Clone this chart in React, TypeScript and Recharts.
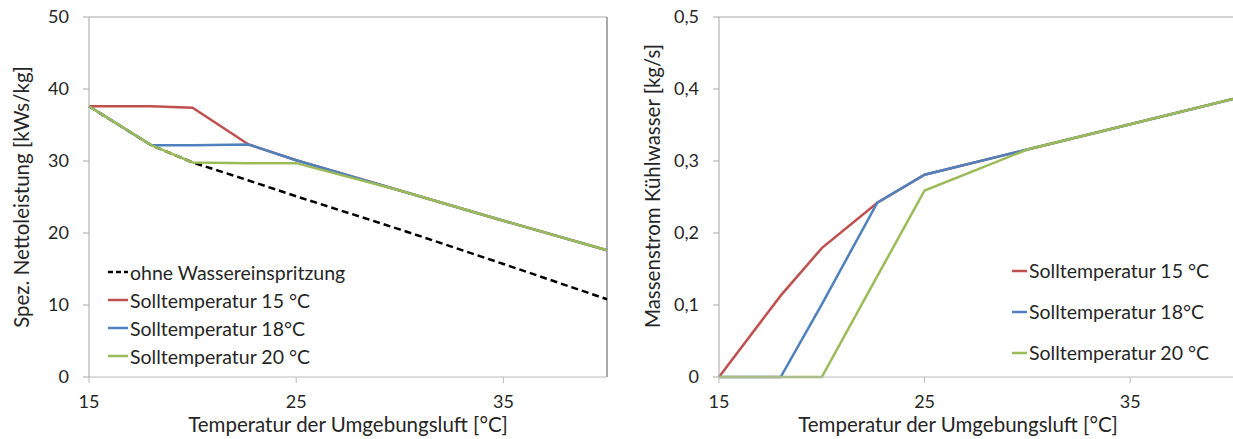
import { LineChart, Line, XAxis, YAxis, Legend, ReferenceLine } from "recharts";

// x grid shared by every series (°C)
const temps = [15, 18, 20, 22.7, 25, 30, 35, 40];

// left chart: Spez. Nettoleistung [kWs/kg]
const ohneWasser = [37.6, 32.2, 29.8, 27.3, 25.1, 20.5, 15.7, 10.8];
const leistung15 = [37.6, 37.6, 37.4, 32.3, 30.1, 25.9, 21.7, 17.6];
const leistung18 = [37.6, 32.2, 32.2, 32.3, 30.1, 25.9, 21.7, 17.6];
const leistung20 = [37.6, 32.2, 29.8, 29.7, 29.7, 25.9, 21.7, 17.6];

// right chart: Massenstrom Kühlwasser [kg/s]
const strom15 = [0, 0.113, 0.179, 0.242, 0.281, 0.316, 0.351, 0.386];
const strom18 = [0, 0, 0.101, 0.242, 0.281, 0.316, 0.351, 0.386];
const strom20 = [0, 0, 0, 0.14, 0.259, 0.316, 0.351, 0.386];

const xTicks = [15, 25, 35];
const leftTicks = [0, 10, 20, 30, 40, 50];
const rightTicks = [0, 0.1, 0.2, 0.3, 0.4, 0.5];

const leftData = temps.map((t, i) => ({
  t,
  ohne: ohneWasser[i],
  s15: leistung15[i],
  s18: leistung18[i],
  s20: leistung20[i],
}));

const rightData = temps.map((t, i) => ({
  t,
  s15: strom15[i],
  s18: strom18[i],
  s20: strom20[i],
}));

const FONT = "Lato, 'Open Sans', sans-serif";
const TEXT = "#262626";
const RED = "#C0504D";
const BLUE = "#4F81BD";
const GREEN = "#9BBB59";

const tickStyle = { fill: TEXT, fontSize: 18, fontFamily: FONT };
const titleStyle = { fill: TEXT, fontSize: 20.5, fontFamily: FONT };

type Entry = { value: string; color: string; dashed?: boolean };

function makeLegend(entries: Entry[], gap: number, lineW: number) {
  return () => (
    <div style={{ fontFamily: FONT, fontSize: 19.5, color: TEXT }}>
      {entries.map((e) => (
        <div
          key={e.value}
          style={{ display: "flex", alignItems: "center", height: gap, whiteSpace: "nowrap" }}
        >
          <svg width={lineW + 1} height={6} style={{ marginRight: 1 }}>
            <line
              x1={0}
              y1={3}
              x2={lineW}
              y2={3}
              stroke={e.color}
              strokeWidth={2.5}
              strokeDasharray={e.dashed ? "5 3" : undefined}
            />
          </svg>
          <span>{e.value}</span>
        </div>
      ))}
    </div>
  );
}

const leftLegend = makeLegend(
  [
    { value: "ohne Wassereinspritzung", color: "#000", dashed: true },
    { value: "Solltemperatur 15 °C", color: RED },
    { value: "Solltemperatur 18°C", color: BLUE },
    { value: "Solltemperatur 20 °C", color: GREEN },
  ],
  28,
  20
);

const rightLegend = makeLegend(
  [
    { value: "Solltemperatur 15 °C", color: RED },
    { value: "Solltemperatur 18°C", color: BLUE },
    { value: "Solltemperatur 20 °C", color: GREEN },
  ],
  41,
  15
);

export default function App() {
  return (
    <div style={{ position: "absolute", left: 0, top: 0, width: 1233, height: 439, background: "#fff" }}>
      <div style={{ position: "absolute", left: 0, top: 0 }}>
        <LineChart width={620} height={439} data={leftData} margin={{ top: 17, right: 13, bottom: 0, left: 0 }}>
          <XAxis
            dataKey="t"
            type="number"
            domain={[15, 40]}
            ticks={xTicks}
            height={62}
            stroke="#BBBBBB"
            tickSize={6}
            tickMargin={12}
            tick={tickStyle}
            label={{
              value: "Temperatur der Umgebungsluft [°C]",
              position: "center",
              dy: 17,
              style: titleStyle,
            }}
          />
          <YAxis
            type="number"
            domain={[0, 50]}
            ticks={leftTicks}
            width={89}
            stroke="#A6A6A6"
            tickSize={6}
            tickMargin={14}
            tick={tickStyle}
            label={{
              value: "Spez. Nettoleistung [kWs/kg]",
              angle: -90,
              position: "center",
              dx: -23,
              style: titleStyle,
            }}
          />
          <ReferenceLine y={50} stroke="#C4C4C4" strokeWidth={1.5} />
          <ReferenceLine x={40} stroke="#8C8C8C" strokeWidth={1.5} />
          <Legend
            layout="vertical"
            verticalAlign="middle"
            align="center"
            content={leftLegend}
            wrapperStyle={{ left: 108, top: 258, width: 300 }}
          />
          <Line dataKey="ohne" stroke="#000" strokeWidth={2.5} strokeDasharray="7 4" dot={false} isAnimationActive={false} />
          <Line dataKey="s15" stroke={RED} strokeWidth={2.5} dot={false} isAnimationActive={false} />
          <Line dataKey="s18" stroke={BLUE} strokeWidth={2.5} dot={false} isAnimationActive={false} />
          <Line dataKey="s20" stroke={GREEN} strokeWidth={2.5} dot={false} isAnimationActive={false} />
        </LineChart>
      </div>
      <div style={{ position: "absolute", left: 620, top: 0 }}>
        <LineChart width={613} height={439} data={rightData} margin={{ top: 17, right: 0, bottom: 0, left: 0 }}>
          <XAxis
            dataKey="t"
            type="number"
            domain={[15, 40]}
            ticks={xTicks}
            height={62}
            stroke="#BBBBBB"
            tickSize={6}
            tickMargin={12}
            tick={tickStyle}
            label={{
              value: "Temperatur der Umgebungsluft [°C]",
              position: "center",
              dy: 17,
              dx: -18,
              style: titleStyle,
            }}
          />
          <YAxis
            type="number"
            domain={[0, 0.5]}
            ticks={rightTicks}
            width={99}
            stroke="#A6A6A6"
            tickSize={6}
            tickMargin={14}
            tick={tickStyle}
            tickFormatter={(v: number) => String(v).replace(".", ",")}
            label={{
              value: "Massenstrom Kühlwasser [kg/s]",
              angle: -90,
              position: "center",
              dx: -17,
              dy: -11,
              style: titleStyle,
            }}
          />
          <ReferenceLine y={0.5} stroke="#C4C4C4" strokeWidth={1.5} />
          <Legend
            layout="vertical"
            verticalAlign="middle"
            align="center"
            content={rightLegend}
            wrapperStyle={{ left: 392, top: 250, width: 220 }}
          />
          <Line dataKey="s15" stroke={RED} strokeWidth={2.5} dot={false} isAnimationActive={false} />
          <Line dataKey="s18" stroke={BLUE} strokeWidth={2.5} dot={false} isAnimationActive={false} />
          <Line dataKey="s20" stroke={GREEN} strokeWidth={2.5} dot={false} isAnimationActive={false} />
        </LineChart>
      </div>
    </div>
  );
}
